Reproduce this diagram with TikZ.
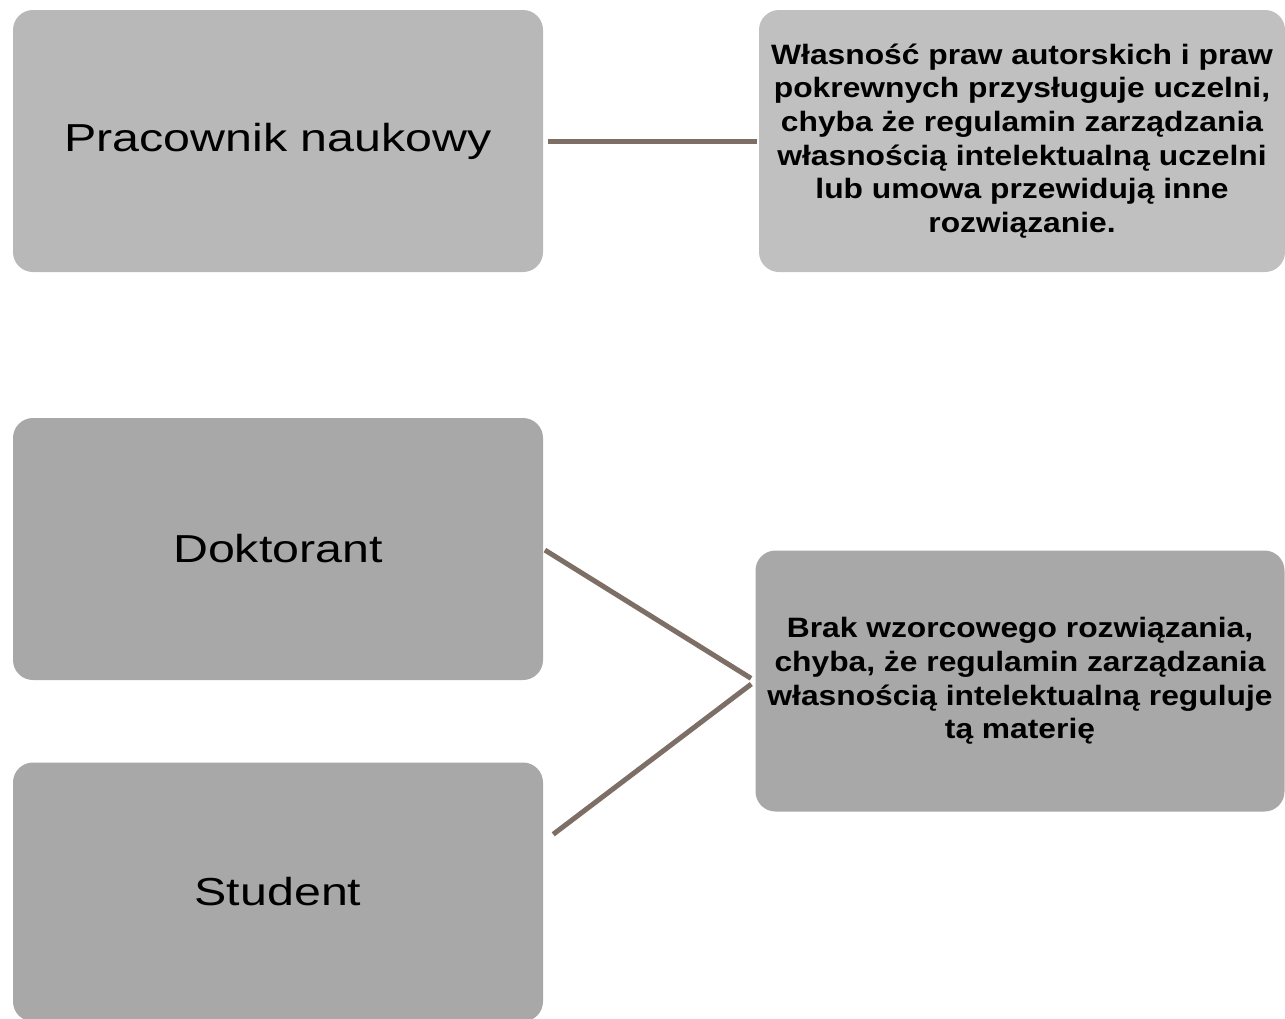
\documentclass[tikz,border=0pt]{standalone}
\usepackage{fontspec}
\usetikzlibrary{calc}
\setmainfont{Liberation Sans}
\newfontfamily\widereg[FakeStretch=1.24]{Liberation Sans}
\newfontfamily\widebold[FakeStretch=1.135]{Liberation Sans}
\definecolor{boxA}{HTML}{B8B8B8}
\definecolor{boxB}{HTML}{C0C0C0}
\definecolor{boxC}{HTML}{A8A8A8}
\definecolor{linkc}{HTML}{7D6E66}
\begin{document}
\begin{tikzpicture}[x=1pt,y=-1pt,
  box/.style={rounded corners=20pt, minimum width=530pt, minimum height=262pt, inner sep=0pt, align=center, text=black},
  lbox/.style={box, font=\widereg\fontsize{39}{47}\selectfont},
  rbox/.style={box, font=\widebold\bfseries\fontsize{28}{33.6}\selectfont},
  link/.style={draw=linkc, line width=5pt}]
\useasboundingbox (0,0) rectangle (1285,1018);
\fill[white] (0,0) rectangle (1285,1018);
\node[lbox, fill=boxA] (P) at (278,141) {Pracownik naukowy};
\node[rbox, fill=boxB, minimum width=526pt] (W) at (1022,141) {Własność praw autorskich i praw\\pokrewnych przysługuje uczelni,\\chyba że regulamin zarządzania\\własnością intelektualną uczelni\\lub umowa przewidują inne\\rozwiązanie.};
\node[lbox, fill=boxC] (D) at (278,549) {Doktorant};
\node[lbox, fill=boxC, minimum height=259pt] (S) at (278,892) {Student};
\node[rbox, fill=boxC, minimum width=529pt, minimum height=261pt] (B) at (1020,681) {Brak wzorcowego rozwiązania,\\chyba, że regulamin zarządzania\\własnością intelektualną reguluje\\tą materię};
\coordinate (Sx) at ($(S.north east)+(10,72)$);
\draw[link, shorten <=5pt, shorten >=2pt] (P.east) -- (W.west);
\draw[link, shorten <=2pt, shorten >=5pt] (D.east) -- (B.west);
\draw[link, shorten >=5pt] (Sx) -- (B.west);
\end{tikzpicture}
\end{document}
